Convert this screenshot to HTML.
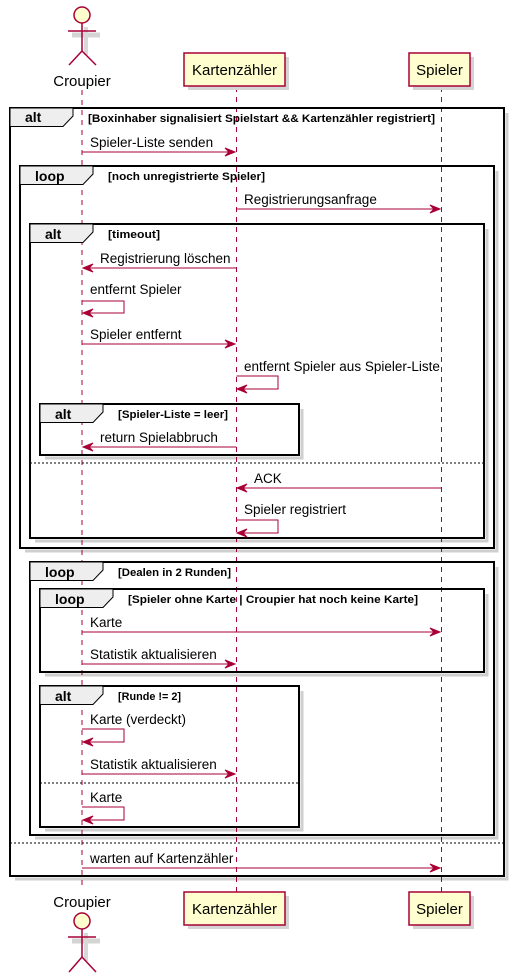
<!DOCTYPE html>
<html><head><meta charset="utf-8"><style>
html,body{margin:0;padding:0;background:#fff;}
svg{display:block;}
text{font-family:"Liberation Sans","DejaVu Sans",sans-serif;fill:#000;}
.m{font-size:13.5px;}
.c{font-size:11px;font-weight:bold;}
.k{font-size:14px;font-weight:bold;}
.ll{stroke:#A80036;stroke-width:1;stroke-dasharray:5,5;}
.ar{stroke:#A80036;stroke-width:1;fill:none;}
.ah{fill:#A80036;stroke:#A80036;stroke-width:1;}
.fr{fill:none;stroke:#000;stroke-width:2;}
.sh{fill:none;stroke:#cfcfcf;stroke-width:3;}
.tab{fill:#EEEEEE;stroke:#000;stroke-width:1;}
.bx{fill:#FEFECE;stroke:#A80036;stroke-width:1.5;}
.bs{fill:#d4d4d4;}
</style></head><body>
<svg width="517" height="977" viewBox="0 0 517 977" xmlns="http://www.w3.org/2000/svg">
<!-- frame shadows (right + bottom only) -->
<path class="sh" d="M507,113 V879 H15"/>
<path class="sh" d="M497,171 V551 H25"/>
<path class="sh" d="M487,229 V541 H35"/>
<path class="sh" d="M302,409 V458 H45"/>
<path class="sh" d="M497,567 V838 H35"/>
<path class="sh" d="M487,594 V675 H45"/>
<path class="sh" d="M302,691 V830 H45"/>

<!-- lifelines -->
<line class="ll" x1="82" y1="90" x2="82" y2="890"/>
<line class="ll" x1="236.5" y1="87" x2="236.5" y2="892"/>
<line class="ll" x1="441.5" y1="87" x2="441.5" y2="892"/>

<!-- top participants -->
<g>
<line x1="72" y1="35" x2="100" y2="35" stroke="#d4d4d4" stroke-width="5"/>
<line x1="86" y1="27" x2="86" y2="55" stroke="#d8d8d8" stroke-width="4"/>
<circle cx="82" cy="15" r="8" fill="#FEFECE" stroke="#A80036" stroke-width="1.5"/>
<line x1="82" y1="23" x2="82" y2="51" stroke="#A80036" stroke-width="1.5"/>
<line x1="68" y1="31" x2="96" y2="31" stroke="#A80036" stroke-width="1.5"/>
<line x1="82" y1="51" x2="69" y2="65" stroke="#A80036" stroke-width="1.5"/>
<line x1="82" y1="51" x2="96" y2="65" stroke="#A80036" stroke-width="1.5"/>
<text x="82" y="86" text-anchor="middle" style="font-size:15px">Croupier</text>
</g>
<rect class="bs" x="188" y="57" width="101" height="33"/>
<rect class="bx" x="184" y="53" width="101" height="33"/>
<text x="234.5" y="75" text-anchor="middle" style="font-size:15px">Kartenzähler</text>
<rect class="bs" x="413" y="57" width="61" height="33"/>
<rect class="bx" x="409" y="53" width="61" height="33"/>
<text x="439.5" y="75" text-anchor="middle" style="font-size:15px">Spieler</text>

<!-- bottom participants -->
<rect class="bs" x="188" y="896" width="101" height="33"/>
<rect class="bx" x="184" y="892" width="101" height="33"/>
<text x="234.5" y="914" text-anchor="middle" style="font-size:15px">Kartenzähler</text>
<rect class="bs" x="413" y="896" width="61" height="33"/>
<rect class="bx" x="409" y="892" width="61" height="33"/>
<text x="439.5" y="914" text-anchor="middle" style="font-size:15px">Spieler</text>
<g>
<text x="82" y="907" text-anchor="middle" style="font-size:15px">Croupier</text>
<line x1="72" y1="941" x2="100" y2="941" stroke="#d4d4d4" stroke-width="5"/>
<line x1="86" y1="933" x2="86" y2="961" stroke="#d8d8d8" stroke-width="4"/>
<circle cx="82" cy="921" r="8" fill="#FEFECE" stroke="#A80036" stroke-width="1.5"/>
<line x1="82" y1="929" x2="82" y2="957" stroke="#A80036" stroke-width="1.5"/>
<line x1="68" y1="937" x2="96" y2="937" stroke="#A80036" stroke-width="1.5"/>
<line x1="82" y1="957" x2="69" y2="972" stroke="#A80036" stroke-width="1.5"/>
<line x1="82" y1="957" x2="96" y2="972" stroke="#A80036" stroke-width="1.5"/>
</g>

<!-- frames -->
<rect class="fr" x="10" y="108" width="494" height="768"/>
<path class="tab" d="M10,108 L73,108 L73,116 L63,126.5 L10,126.5 Z"/>
<text class="k" x="25" y="122">alt</text>
<text class="c" x="88" y="122" textLength="347" lengthAdjust="spacingAndGlyphs">[Boxinhaber signalisiert Spielstart &amp;&amp; Kartenzähler registriert]</text>
<line x1="10" y1="843" x2="504" y2="843" stroke="#000" stroke-width="1" stroke-dasharray="2,2"/>

<rect class="fr" x="20" y="166" width="474" height="382"/>
<path class="tab" d="M20,166 L93,166 L93,174 L83,184.5 L20,184.5 Z"/>
<text class="k" x="35" y="181">loop</text>
<text class="c" x="108" y="180" textLength="157" lengthAdjust="spacingAndGlyphs">[noch unregistrierte Spieler]</text>

<rect class="fr" x="30" y="224" width="454" height="314"/>
<path class="tab" d="M30,224 L93,224 L93,232 L83,242.5 L30,242.5 Z"/>
<text class="k" x="45" y="239">alt</text>
<text class="c" x="108" y="238" textLength="52" lengthAdjust="spacingAndGlyphs">[timeout]</text>
<line x1="30" y1="463" x2="484" y2="463" stroke="#000" stroke-width="1" stroke-dasharray="2,2"/>

<rect class="fr" x="40" y="404" width="259" height="51"/>
<path class="tab" d="M40,404 L103,404 L103,412 L93,422.5 L40,422.5 Z"/>
<text class="k" x="55" y="419">alt</text>
<text class="c" x="118" y="418" textLength="110" lengthAdjust="spacingAndGlyphs">[Spieler-Liste = leer]</text>

<rect class="fr" x="30" y="562" width="464" height="273"/>
<path class="tab" d="M30,562 L103,562 L103,570 L93,580.5 L30,580.5 Z"/>
<text class="k" x="45" y="577">loop</text>
<text class="c" x="118" y="576" textLength="113" lengthAdjust="spacingAndGlyphs">[Dealen in 2 Runden]</text>

<rect class="fr" x="40" y="589" width="444" height="83"/>
<path class="tab" d="M40,589 L113,589 L113,597 L103,607.5 L40,607.5 Z"/>
<text class="k" x="55" y="604">loop</text>
<text class="c" x="128" y="603" textLength="290" lengthAdjust="spacingAndGlyphs">[Spieler ohne Karte | Croupier hat noch keine Karte]</text>

<rect class="fr" x="40" y="686" width="259" height="141"/>
<path class="tab" d="M40,686 L103,686 L103,694 L93,704.5 L40,704.5 Z"/>
<text class="k" x="55" y="701">alt</text>
<text class="c" x="118" y="700" textLength="63" lengthAdjust="spacingAndGlyphs">[Runde != 2]</text>
<line x1="40" y1="783" x2="299" y2="783" stroke="#000" stroke-width="1" stroke-dasharray="2,2"/>

<!-- messages -->
<g>
<line class="ar" x1="82" y1="152" x2="235" y2="152"/><polygon class="ah" points="235,152 225,148 229,152 225,156"/>
<text class="m" x="90" y="147">Spieler-Liste senden</text>

<line class="ar" x1="236.5" y1="209" x2="440" y2="209"/><polygon class="ah" points="440,209 430,205 434,209 430,213"/>
<text class="m" x="244" y="204">Registrierungsanfrage</text>

<line class="ar" x1="84" y1="268" x2="236.5" y2="268"/><polygon class="ah" points="83,268 93,264 89,268 93,272"/>
<text class="m" x="100" y="263">Registrierung löschen</text>

<polyline class="ar" points="82,301 124,301 124,313 84,313"/><polygon class="ah" points="83,313 93,309 89,313 93,317"/>
<text class="m" x="90" y="294">entfernt Spieler</text>

<line class="ar" x1="82" y1="344" x2="235" y2="344"/><polygon class="ah" points="235,344 225,340 229,344 225,348"/>
<text class="m" x="90" y="339">Spieler entfernt</text>

<polyline class="ar" points="236.5,376 278,376 278,389 238,389"/><polygon class="ah" points="237,389 247,385 243,389 247,393"/>
<text class="m" x="244" y="371">entfernt Spieler aus Spieler-Liste</text>

<line class="ar" x1="84" y1="447" x2="236.5" y2="447"/><polygon class="ah" points="83,447 93,443 89,447 93,451"/>
<text class="m" x="100" y="442">return Spielabbruch</text>

<line class="ar" x1="238" y1="488" x2="441.5" y2="488"/><polygon class="ah" points="237,488 247,484 243,488 247,492"/>
<text class="m" x="254" y="483">ACK</text>

<polyline class="ar" points="236.5,520 278,520 278,533 238,533"/><polygon class="ah" points="237,533 247,529 243,533 247,537"/>
<text class="m" x="244" y="514">Spieler registriert</text>

<line class="ar" x1="82" y1="632" x2="440" y2="632"/><polygon class="ah" points="440,632 430,628 434,632 430,636"/>
<text class="m" x="90" y="627">Karte</text>

<line class="ar" x1="82" y1="664" x2="235" y2="664"/><polygon class="ah" points="235,664 225,660 229,664 225,668"/>
<text class="m" x="90" y="659">Statistik aktualisieren</text>

<polyline class="ar" points="82,729 124,729 124,742 84,742"/><polygon class="ah" points="83,742 93,738 89,742 93,746"/>
<text class="m" x="90" y="724">Karte (verdeckt)</text>

<line class="ar" x1="82" y1="774" x2="235" y2="774"/><polygon class="ah" points="235,774 225,770 229,774 225,778"/>
<text class="m" x="90" y="769">Statistik aktualisieren</text>

<polyline class="ar" points="82,807 124,807 124,820 84,820"/><polygon class="ah" points="83,820 93,816 89,820 93,824"/>
<text class="m" x="90" y="802">Karte</text>

<line class="ar" x1="82" y1="868" x2="440" y2="868"/><polygon class="ah" points="440,868 430,864 434,868 430,872"/>
<text class="m" x="90" y="863">warten auf Kartenzähler</text>
</g>
</svg>
</body></html>
